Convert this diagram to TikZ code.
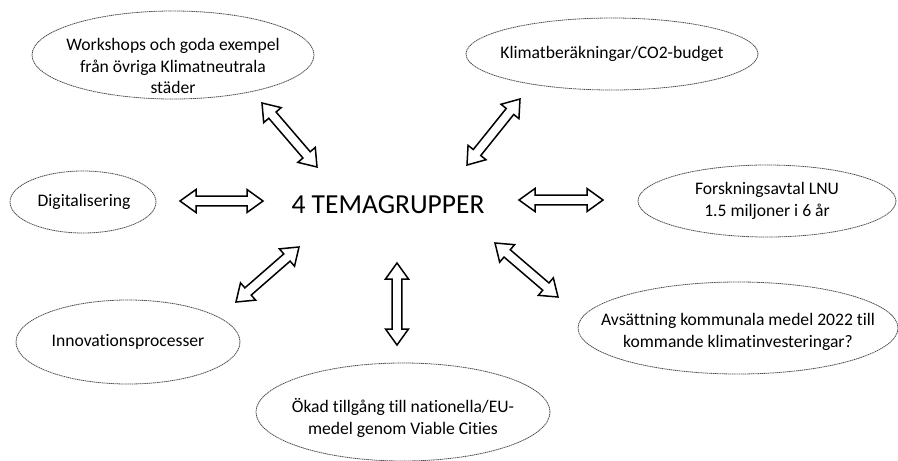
\documentclass[tikz,border=0pt]{standalone}
\usepackage{fontspec}
\setmainfont{Carlito}[Ligatures=CommonOff]
\usetikzlibrary{calc,shapes.geometric}
\newcommand{\blockarr}[2]{%
  \draw[barrow] (#1)
    -- ($(#1)!16pt!(#2)!11.5pt!90:(#2)$)
    -- ($(#1)!16pt!(#2)!4.8pt!90:(#2)$)
    -- ($(#2)!16pt!(#1)!4.8pt!-90:(#1)$)
    -- ($(#2)!16pt!(#1)!11.5pt!-90:(#1)$)
    -- (#2)
    -- ($(#2)!16pt!(#1)!11.5pt!90:(#1)$)
    -- ($(#2)!16pt!(#1)!4.8pt!90:(#1)$)
    -- ($(#1)!16pt!(#2)!4.8pt!-90:(#2)$)
    -- ($(#1)!16pt!(#2)!11.5pt!-90:(#2)$)
    -- cycle;}
\begin{document}
\begin{tikzpicture}[x=1pt,y=-1pt,
  oval/.style={ellipse, draw=black!70, line width=0.8pt, dash pattern=on 1.3pt off 0.6pt, inner sep=0pt},
  lbl/.style={align=center, font=\fontsize{17.6}{21.8}\selectfont, inner sep=0pt},
  barrow/.style={draw=black, fill=white, line width=1.5pt, line join=miter}]
\useasboundingbox (0,0) rectangle (898,461);
% ovals
\node[oval, minimum width=282pt, minimum height=88pt] (ws) at (173,55) {};
\node[oval, minimum width=292pt, minimum height=72pt] (kl) at (612,54) {};
\node[oval, minimum width=146pt, minimum height=62pt] (dg) at (83,202) {};
\node[oval, minimum width=258pt, minimum height=72pt] (fo) at (767,201) {};
\node[oval, minimum width=224pt, minimum height=84pt] (in) at (128,342) {};
\node[oval, minimum width=294pt, minimum height=98pt] (ok) at (403,412) {};
\node[oval, minimum width=320pt, minimum height=92pt] (av) at (738,328) {};
% labels
\node[lbl] (wst) at (173,66) {Workshops och goda exempel\\från övriga Klimatneutrala\\städer};
\node[lbl] (klt) at (612,54) {Klimatberäkningar/CO2-budget};
\node[lbl] (dgt) at (84,202) {Digitalisering};
\node[lbl] (fot) at (767,201) {Forskningsavtal LNU\\1.5 miljoner i 6 år};
\node[lbl] (int) at (128,342) {Innovationsprocesser};
\node[lbl] (okt) at (403,418) {Ökad tillgång till nationella/EU-\\medel genom Viable Cities};
\node[lbl] (avt) at (738,332) {Avsättning kommunala medel 2022 till\\kommande klimatinvesteringar?};
% centre
\node[inner sep=0pt, font=\fontsize{27.5}{33}\selectfont] (c) at (388,205) {4 TEMAGRUPPER};
% arrows
\coordinate (a1s) at (262,103); \coordinate (a1e) at (317,167);
\coordinate (a2s) at (520,99);  \coordinate (a2e) at (467,165);
\coordinate (a3s) at (180,201); \coordinate (a3e) at (263,201);
\coordinate (a4s) at (519,200); \coordinate (a4e) at (603,200);
\coordinate (a5s) at (299,247); \coordinate (a5e) at (236,302);
\coordinate (a6s) at (397,263); \coordinate (a6e) at (397,345);
\coordinate (a7s) at (495,243); \coordinate (a7e) at (558,297);
\blockarr{a1s}{a1e}
\blockarr{a2s}{a2e}
\blockarr{a3s}{a3e}
\blockarr{a4s}{a4e}
\blockarr{a5s}{a5e}
\blockarr{a6s}{a6e}
\blockarr{a7s}{a7e}
\end{tikzpicture}
\end{document}
